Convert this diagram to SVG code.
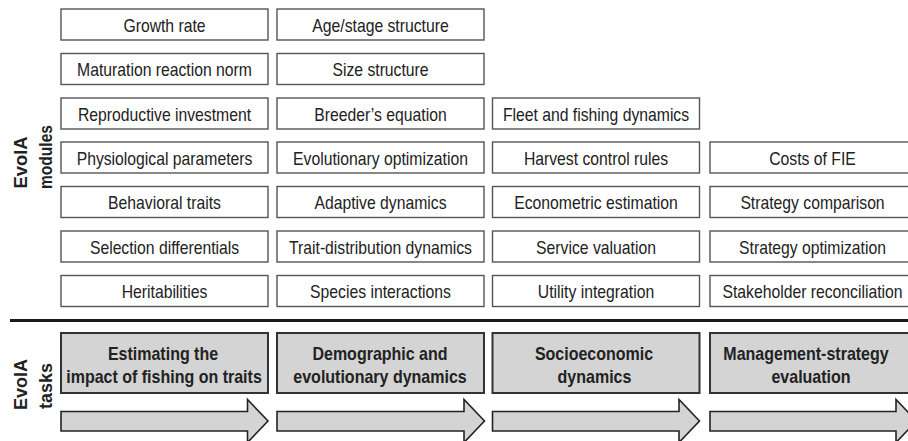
<svg xmlns="http://www.w3.org/2000/svg" width="908" height="441" viewBox="0 0 908 441">
<style>
.mod rect{fill:#fff;stroke:#555;stroke-width:1.4}
.mod text{font-family:"Liberation Sans",Arial,Helvetica,sans-serif;font-size:17.5px;fill:#222;text-anchor:middle}
.task rect{fill:#d4d4d4;stroke:#333;stroke-width:2}
.task text{font-family:"Liberation Sans",Arial,Helvetica,sans-serif;font-size:18px;font-weight:bold;fill:#222;text-anchor:middle}
.lbl{font-family:"Liberation Sans",Arial,Helvetica,sans-serif;font-size:18px;font-weight:bold;fill:#222}
.arr{fill:#d4d4d4;stroke:#222;stroke-width:1.6;stroke-linejoin:miter}
</style>
<rect width="908" height="441" fill="#fff"/>

<g id="labels">
<text class="lbl" transform="translate(26.5,188.5) rotate(-90)" textLength="52" lengthAdjust="spacingAndGlyphs">EvoIA</text>
<text class="lbl" transform="translate(52,189) rotate(-90)" textLength="64" lengthAdjust="spacingAndGlyphs">modules</text>
<text class="lbl" transform="translate(26.5,410) rotate(-90)" textLength="51" lengthAdjust="spacingAndGlyphs">EvoIA</text>
<text class="lbl" transform="translate(52,409) rotate(-90)" textLength="46" lengthAdjust="spacingAndGlyphs">tasks</text>
</g>

<g id="c1r1" class="mod"><rect x="61" y="9" width="207" height="31"/><text transform="translate(164.5,31.5) scale(0.9,1)">Growth rate</text></g>
<g id="c1r2" class="mod"><rect x="61" y="53.5" width="207" height="31"/><text transform="translate(164.5,76) scale(0.9,1)">Maturation reaction norm</text></g>
<g id="c1r3" class="mod"><rect x="61" y="98" width="207" height="31"/><text transform="translate(164.5,120.5) scale(0.9,1)">Reproductive investment</text></g>
<g id="c1r4" class="mod"><rect x="61" y="142" width="207" height="31"/><text transform="translate(164.5,164.5) scale(0.9,1)">Physiological parameters</text></g>
<g id="c1r5" class="mod"><rect x="61" y="186.5" width="207" height="31"/><text transform="translate(164.5,209) scale(0.9,1)">Behavioral traits</text></g>
<g id="c1r6" class="mod"><rect x="61" y="231" width="207" height="31"/><text transform="translate(164.5,253.5) scale(0.9,1)">Selection differentials</text></g>
<g id="c1r7" class="mod"><rect x="61" y="275.5" width="207" height="31"/><text transform="translate(164.5,298) scale(0.9,1)">Heritabilities</text></g>

<g id="c2r1" class="mod"><rect x="277" y="9" width="207" height="31"/><text transform="translate(380.5,31.5) scale(0.9,1)">Age/stage structure</text></g>
<g id="c2r2" class="mod"><rect x="277" y="53.5" width="207" height="31"/><text transform="translate(380.5,76) scale(0.9,1)">Size structure</text></g>
<g id="c2r3" class="mod"><rect x="277" y="98" width="207" height="31"/><text transform="translate(380.5,120.5) scale(0.9,1)">Breeder’s equation</text></g>
<g id="c2r4" class="mod"><rect x="277" y="142" width="207" height="31"/><text transform="translate(380.5,164.5) scale(0.9,1)">Evolutionary optimization</text></g>
<g id="c2r5" class="mod"><rect x="277" y="186.5" width="207" height="31"/><text transform="translate(380.5,209) scale(0.9,1)">Adaptive dynamics</text></g>
<g id="c2r6" class="mod"><rect x="277" y="231" width="207" height="31"/><text transform="translate(380.5,253.5) scale(0.9,1)">Trait-distribution dynamics</text></g>
<g id="c2r7" class="mod"><rect x="277" y="275.5" width="207" height="31"/><text transform="translate(380.5,298) scale(0.9,1)">Species interactions</text></g>

<g id="c3r3" class="mod"><rect x="492.5" y="98" width="207" height="31"/><text transform="translate(596,120.5) scale(0.9,1)">Fleet and fishing dynamics</text></g>
<g id="c3r4" class="mod"><rect x="492.5" y="142" width="207" height="31"/><text transform="translate(596,164.5) scale(0.9,1)">Harvest control rules</text></g>
<g id="c3r5" class="mod"><rect x="492.5" y="186.5" width="207" height="31"/><text transform="translate(596,209) scale(0.9,1)">Econometric estimation</text></g>
<g id="c3r6" class="mod"><rect x="492.5" y="231" width="207" height="31"/><text transform="translate(596,253.5) scale(0.9,1)">Service valuation</text></g>
<g id="c3r7" class="mod"><rect x="492.5" y="275.5" width="207" height="31"/><text transform="translate(596,298) scale(0.9,1)">Utility integration</text></g>

<g id="c4r4" class="mod"><rect x="710" y="142" width="207" height="31"/><text transform="translate(812.5,164.5) scale(0.9,1)">Costs of FIE</text></g>
<g id="c4r5" class="mod"><rect x="710" y="186.5" width="207" height="31"/><text transform="translate(812.5,209) scale(0.9,1)">Strategy comparison</text></g>
<g id="c4r6" class="mod"><rect x="710" y="231" width="207" height="31"/><text transform="translate(812.5,253.5) scale(0.9,1)">Strategy optimization</text></g>
<g id="c4r7" class="mod"><rect x="710" y="275.5" width="207" height="31"/><text transform="translate(812.5,298) scale(0.9,1)">Stakeholder reconciliation</text></g>

<line id="divider" x1="10" y1="320.5" x2="908" y2="320.5" stroke="#1a1a1a" stroke-width="3"/>

<g id="task1" class="task"><rect x="61" y="333" width="207" height="60"/><text transform="translate(163,360) scale(0.89,1)">Estimating the</text><text transform="translate(164,382.5) scale(0.89,1)">impact of fishing on traits</text></g>
<g id="task2" class="task"><rect x="277" y="333" width="207" height="60"/><text transform="translate(380,360) scale(0.89,1)">Demographic and</text><text transform="translate(380,382.5) scale(0.89,1)">evolutionary dynamics</text></g>
<g id="task3" class="task"><rect x="492.5" y="333" width="207" height="60"/><text transform="translate(594,360) scale(0.89,1)">Socioeconomic</text><text transform="translate(594.5,382.5) scale(0.89,1)">dynamics</text></g>
<g id="task4" class="task"><rect x="710" y="333" width="207" height="60"/><text transform="translate(806,360) scale(0.89,1)">Management-strategy</text><text transform="translate(811,382.5) scale(0.89,1)">evaluation</text></g>

<g id="arrows">
<polygon class="arr" points="61,411.5 247.5,411.5 247.5,399.5 268,421 247.5,442.5 247.5,431 61,431"/>
<polygon class="arr" points="277,411.5 464,411.5 464,399.5 484.5,421 464,442.5 464,431 277,431"/>
<polygon class="arr" points="492.5,411.5 679,411.5 679,399.5 699.5,421 679,442.5 679,431 492.5,431"/>
<polygon class="arr" points="710,411.5 896,411.5 896,399.5 916.5,421 896,442.5 896,431 710,431"/>
</g>
</svg>
